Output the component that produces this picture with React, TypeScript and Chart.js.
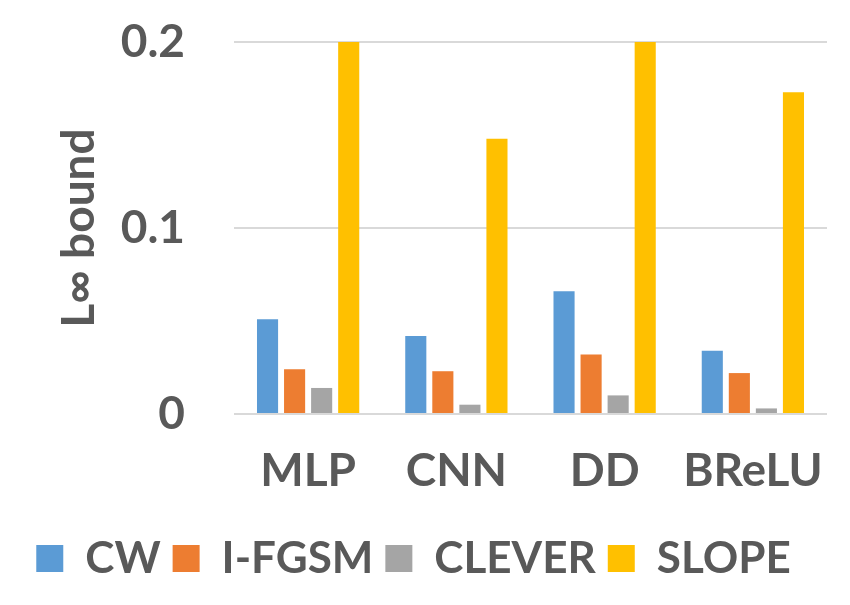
import React, { useEffect, useRef } from "react";
import { Chart, registerables } from "chart.js";

Chart.register(...registerables);

const categories = ["MLP", "CNN", "DD", "BReLU"];
const seriesNames = ["CW", "I-FGSM", "CLEVER", "SLOPE"];
const cwValues = [0.051, 0.042, 0.066, 0.034];
const ifgsmValues = [0.024, 0.023, 0.032, 0.022];
const cleverValues = [0.014, 0.005, 0.01, 0.003];
const slopeValues = [0.2, 0.148, 0.2, 0.173];
const seriesColors = ["#5B9BD5", "#ED7D31", "#A5A5A5", "#FFC000"];
const yTicks = [0, 0.1, 0.2];
const yTitle = "L\u221E bound";

export default function App() {
  const ref = useRef<HTMLCanvasElement | null>(null);
  useEffect(() => {
    if (!ref.current) return;
    const values = [cwValues, ifgsmValues, cleverValues, slopeValues];
    const font = { family: "Lato", weight: "bold" as const, size: 46, lineHeight: 1.2 };
    const legendFont = { family: "Lato", weight: "bold" as const, size: 44, lineHeight: 1.2 };
    const chart = new Chart(ref.current, {
      type: "bar",
      data: {
        labels: categories,
        datasets: seriesNames.map((name, i) => ({
          label: name,
          data: values[i],
          backgroundColor: seriesColors[i],
          borderWidth: 0,
          categoryPercentage: 0.73,
          barPercentage: 0.78,
        })),
      },
      options: {
        responsive: false,
        animation: false,
        layout: { padding: { left: 0, right: 23, top: 42, bottom: 14.5 } },
        plugins: {
          tooltip: { enabled: false },
          legend: {
            position: "bottom",
            labels: {
              color: "#595959",
              font: legendFont,
              boxWidth: 27,
              boxHeight: 27,
              padding: 12,
            },
          },
        },
        scales: {
          x: {
            grid: {
              display: true,
              drawOnChartArea: false,
              drawTicks: true,
              tickLength: 30,
              tickColor: "rgba(0,0,0,0)",
              color: "rgba(0,0,0,0)",
            },
            border: { display: false },
            ticks: { color: "#595959", font, padding: 0, maxRotation: 0 },
            afterFit: (s: any) => {
              s.height = 110.5;
            },
          },
          y: {
            min: 0,
            max: 0.2,
            afterBuildTicks: (s: any) => {
              s.ticks = yTicks.map((v) => ({ value: v }));
            },
            grid: {
              color: "#D9D9D9",
              lineWidth: 2,
              drawTicks: true,
              tickLength: 49,
              tickColor: "rgba(0,0,0,0)",
            },
            border: { display: false },
            ticks: {
              color: "#595959",
              font,
              padding: 0,
              callback: (v: any) => String(v),
            },
            title: {
              display: true,
              text: yTitle,
              color: "#595959",
              font,
              padding: { top: 52, bottom: 0 },
            },
            afterFit: (s: any) => {
              s.width = 234;
            },
          },
        },
      },
    });
    return () => chart.destroy();
  }, []);
  return (
    <div style={{ position: "fixed", left: 0, top: 0, width: 850, height: 605, background: "#fff" }}>
      <canvas ref={ref} width={850} height={605} />
    </div>
  );
}
